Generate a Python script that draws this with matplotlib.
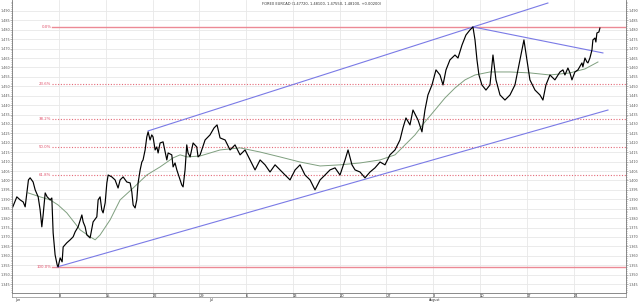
import numpy as np
import matplotlib
matplotlib.use("Agg")
import matplotlib.pyplot as plt

# ---------------------------------------------------------------------------
# data (x = trading days since 1 Jun, y = price)

day = [0.07, 0.50, 0.85, 1.18, 1.39, 1.74, 1.92, 2.24, 2.46, 2.78, 2.99, 3.17, 3.31, 3.53,
       3.74, 4.06, 4.24, 4.38, 4.59, 4.81, 4.91, 5.13, 5.34, 5.45, 5.84, 6.20, 6.52, 6.73,
       7.05, 7.45, 7.59, 7.80, 7.98, 8.33, 8.65, 9.05, 9.19, 9.40, 9.58, 9.72, 9.94, 10.12,
       10.26, 10.65, 11.00, 11.32, 11.54, 11.86, 12.25, 12.61, 12.79, 12.93, 13.14, 13.32,
       13.46, 13.68, 13.86, 13.99, 14.21, 14.39, 14.53, 14.74, 14.92, 15.06, 15.28, 15.46,
       15.60, 15.81, 16.13, 16.35, 16.53, 16.67, 17.06, 17.20, 17.41, 17.60, 17.95, 18.13,
       18.27, 18.48, 18.66, 18.80, 19.02, 19.34, 19.73, 19.87, 20.09,
       20.62, 21.15, 21.58, 21.90, 22.22, 22.76, 23.29, 23.82, 24.36, 24.89, 25.43, 25.96,
       26.50, 27.03, 27.56, 28.10, 28.63, 29.17, 29.70, 30.24, 30.77, 31.30, 31.84, 32.37,
       32.91, 33.44, 33.97, 34.51, 35.04, 35.58, 35.90, 36.32, 36.65, 37.18, 37.71, 38.25,
       38.78, 39.32, 39.85, 40.38, 40.92, 41.45, 41.77, 42.09, 42.52, 42.84, 43.38, 43.80,
       44.12, 44.44, 44.87, 45.30, 45.73, 46.05, 46.37, 46.79, 47.33, 47.65, 48.08, 48.50,
       48.93, 49.25, 49.47, 49.68, 49.89, 50.21, 50.64, 51.07, 51.39, 51.71, 52.14, 52.67,
       53.21, 53.74, 54.27, 54.70, 55.02, 55.34, 55.88, 56.41, 56.73, 57.05, 57.48, 58.01,
       58.55, 58.87, 59.08, 59.40, 59.62, 59.83, 60.15, 60.47, 60.90, 61.00, 61.22, 61.43,
       61.54, 61.75, 61.97, 62.07, 62.29, 62.39, 62.50, 62.71, 62.82]
price = [1.3860, 1.3913, 1.3897, 1.3886, 1.3860, 1.4003, 1.4014, 1.3992, 1.3950, 1.3913,
         1.3844, 1.3754, 1.3817, 1.3934, 1.3913, 1.3897, 1.3907, 1.3722, 1.3605, 1.3552,
         1.3541, 1.3589, 1.3568, 1.3647, 1.3669, 1.3685, 1.3701, 1.3727, 1.3754, 1.3817,
         1.3780, 1.3754, 1.3711, 1.3695, 1.3780, 1.3807, 1.3897, 1.3913, 1.3844, 1.3828,
         1.3881, 1.3987, 1.4029, 1.4019, 1.4003, 1.3960, 1.4003, 1.4019, 1.3992, 1.3987,
         1.3939, 1.3870, 1.3854, 1.3897, 1.3987, 1.4056, 1.4098, 1.4109, 1.4162, 1.4231,
         1.4258, 1.4215, 1.4242, 1.4231, 1.4162, 1.4178, 1.4146, 1.4199, 1.4205, 1.4151,
         1.4109, 1.4146, 1.4136, 1.4072, 1.4093, 1.4056, 1.4003, 1.3976, 1.3966, 1.4056,
         1.4189, 1.4146, 1.4125, 1.4199, 1.4178, 1.4125, 1.4136,
         1.4215, 1.4242, 1.4279, 1.4295, 1.4226, 1.4215, 1.4162, 1.4189, 1.4136, 1.4162,
         1.4109, 1.4056, 1.4109, 1.4083, 1.4045, 1.4083, 1.4056, 1.4029, 1.4003, 1.4056,
         1.4083, 1.4029, 1.4003, 1.3950, 1.4003, 1.4029, 1.4056, 1.4067, 1.4029, 1.4109,
         1.4162, 1.4083, 1.4056, 1.4045, 1.4014, 1.4045, 1.4067, 1.4098, 1.4083, 1.4136,
         1.4162, 1.4215, 1.4279, 1.4332, 1.4295, 1.4374, 1.4321, 1.4258, 1.4374, 1.4454,
         1.4507, 1.4587, 1.4560, 1.4507, 1.4587, 1.4640, 1.4666, 1.4650, 1.4719, 1.4772,
         1.4799, 1.4815, 1.4746, 1.4640, 1.4560, 1.4507, 1.4480, 1.4507, 1.4666, 1.4534,
         1.4454, 1.4427, 1.4454, 1.4507, 1.4640, 1.4746, 1.4640, 1.4534, 1.4480, 1.4454,
         1.4427, 1.4507, 1.4560, 1.4534, 1.4576, 1.4587, 1.4560, 1.4597, 1.4571, 1.4534,
         1.4576, 1.4587, 1.4624, 1.4603, 1.4650, 1.4629, 1.4624, 1.4650, 1.4693, 1.4746,
         1.4756, 1.4735, 1.4783, 1.4788, 1.4809]

ma_day = [1.71, 2.99, 4.06, 4.91, 5.84, 7.26, 8.33, 8.87, 9.40, 10.47, 11.54, 12.93, 14.39,
          15.81, 17.20, 17.95, 18.70, 20.09, 22.22, 24.36, 26.50, 28.63, 30.77, 32.91, 35.04,
          37.18, 39.32, 40.92, 41.99, 43.06, 44.12, 45.19, 46.26, 47.33, 48.40, 49.47, 51.07,
          53.21, 55.34, 57.48, 59.62, 61.22, 62.61]
ma_price = [1.3934, 1.3913, 1.3897, 1.3870, 1.3828, 1.3738, 1.3701, 1.3685, 1.3711, 1.3791,
            1.3897, 1.3960, 1.4029, 1.4072, 1.4120, 1.4136, 1.4125, 1.4130, 1.4162, 1.4173,
            1.4151, 1.4125, 1.4098, 1.4077, 1.4083, 1.4093, 1.4109, 1.4136, 1.4189, 1.4242,
            1.4311, 1.4374, 1.4438, 1.4491, 1.4534, 1.4560, 1.4576, 1.4576, 1.4571, 1.4560,
            1.4571, 1.4592, 1.4629]

# trend lines (start, end)
channel_top = [(14.53, 1.4263), (57.26, 1.4942)]
channel_bottom = [(4.81, 1.3541), (63.68, 1.4374)]
resist = [(49.25, 1.4815), (63.14, 1.4677)]

fib_high = 1.4815
fib_low = 1.3541
fib_levels = [0.0, 0.236, 0.382, 0.5, 0.618, 1.0]
fib_labels = ["0.0%", "23.6%", "38.2%", "50.0%", "61.8%", "100.0%"]

week_pos = [5, 10, 15, 20, 25, 30, 35, 40, 45, 50, 55, 60]
week_lbl = ["8", "15", "22", "29", "6", "13", "20", "27", "3", "10", "17", "24"]
months = [(0.3, "Jun"), (21.0, "Jul"), (44.5, "August")]

title = "FOREX EURCAD (1.47720, 1.48100, 1.47550, 1.48100, +0.00200)"

# ---------------------------------------------------------------------------
fig = plt.figure(figsize=(6.4, 3.02), dpi=100)
ax = fig.add_axes([0.019, 0.030, 0.959, 0.970])

ax.set_xlim(0, 65.6)
ax.set_ylim(1.3403, 1.4958)

yt = np.arange(1.345, 1.4901, 0.005)
ax.set_yticks(yt)
ax.set_yticklabels(["%.3f" % v for v in yt])
ax.set_yticks(np.arange(1.341, 1.4951, 0.001), minor=True)
ax.set_xticks(week_pos)
ax.set_xticklabels(week_lbl)

ax.grid(True, which="major", color="#e8e8e8", lw=0.6)
ax.set_axisbelow(True)

ax.tick_params(axis="y", which="both", labelsize=2.4, labelcolor="#555555",
               left=True, right=True, labelleft=True, labelright=True,
               length=1.2, width=0.4, pad=0.5, color="#777777")
ax.tick_params(axis="y", which="minor", length=0.7)
ax.tick_params(axis="x", labelsize=2.6, labelcolor="#333333", length=3.2, width=0.4,
               color="#888888", pad=-2.6)
for lbl in ax.get_xticklabels():
    lbl.set_horizontalalignment("left")

for s in ax.spines.values():
    s.set_color("#777777")
    s.set_linewidth(0.6)
ax.spines["top"].set_visible(False)

# date band under the plot
band = fig.add_axes([0.019, 0.0165, 0.959, 0.0135])
band.set_xlim(0, 65.6)
band.set_xticks([])
band.set_yticks([])
band.patch.set_alpha(0)
for s in band.spines.values():
    s.set_color("#888888")
    s.set_linewidth(0.5)
band.spines["top"].set_visible(False)

# fib retracement
for lev, lab in zip(fib_levels, fib_labels):
    v = fib_high - (fib_high - fib_low) * lev
    if lev in (0.0, 1.0):
        ax.plot([4.3, 65.6], [v, v], color="#ec8a95", lw=1.0)
    else:
        ax.plot([4.3, 65.6], [v, v], color="#e46a78", lw=0.8, ls=(0, (1, 1.5)))
    ax.text(4.2, v, lab, color="#e0506a", fontsize=2.8, ha="right", va="center")

# channel / trend lines
for seg in (channel_top, channel_bottom, resist):
    ax.plot([seg[0][0], seg[1][0]], [seg[0][1], seg[1][1]], color="#7a7ae6", lw=0.8)

ax.plot(ma_day, ma_price, color="#7f9f7f", lw=0.7)
ax.plot(day, price, color="black", lw=0.85)

fig.text(0.502, 0.986, title, fontsize=2.6, ha="center", va="center", color="#333333")

for d, m in months:
    x_fig = fig.transFigure.inverted().transform(ax.transData.transform((d, 1.4)))[0]
    fig.text(x_fig, 0.0, m, fontsize=2.4, ha="left", va="bottom", color="#333333")

fig.savefig("out.png", dpi=100)
